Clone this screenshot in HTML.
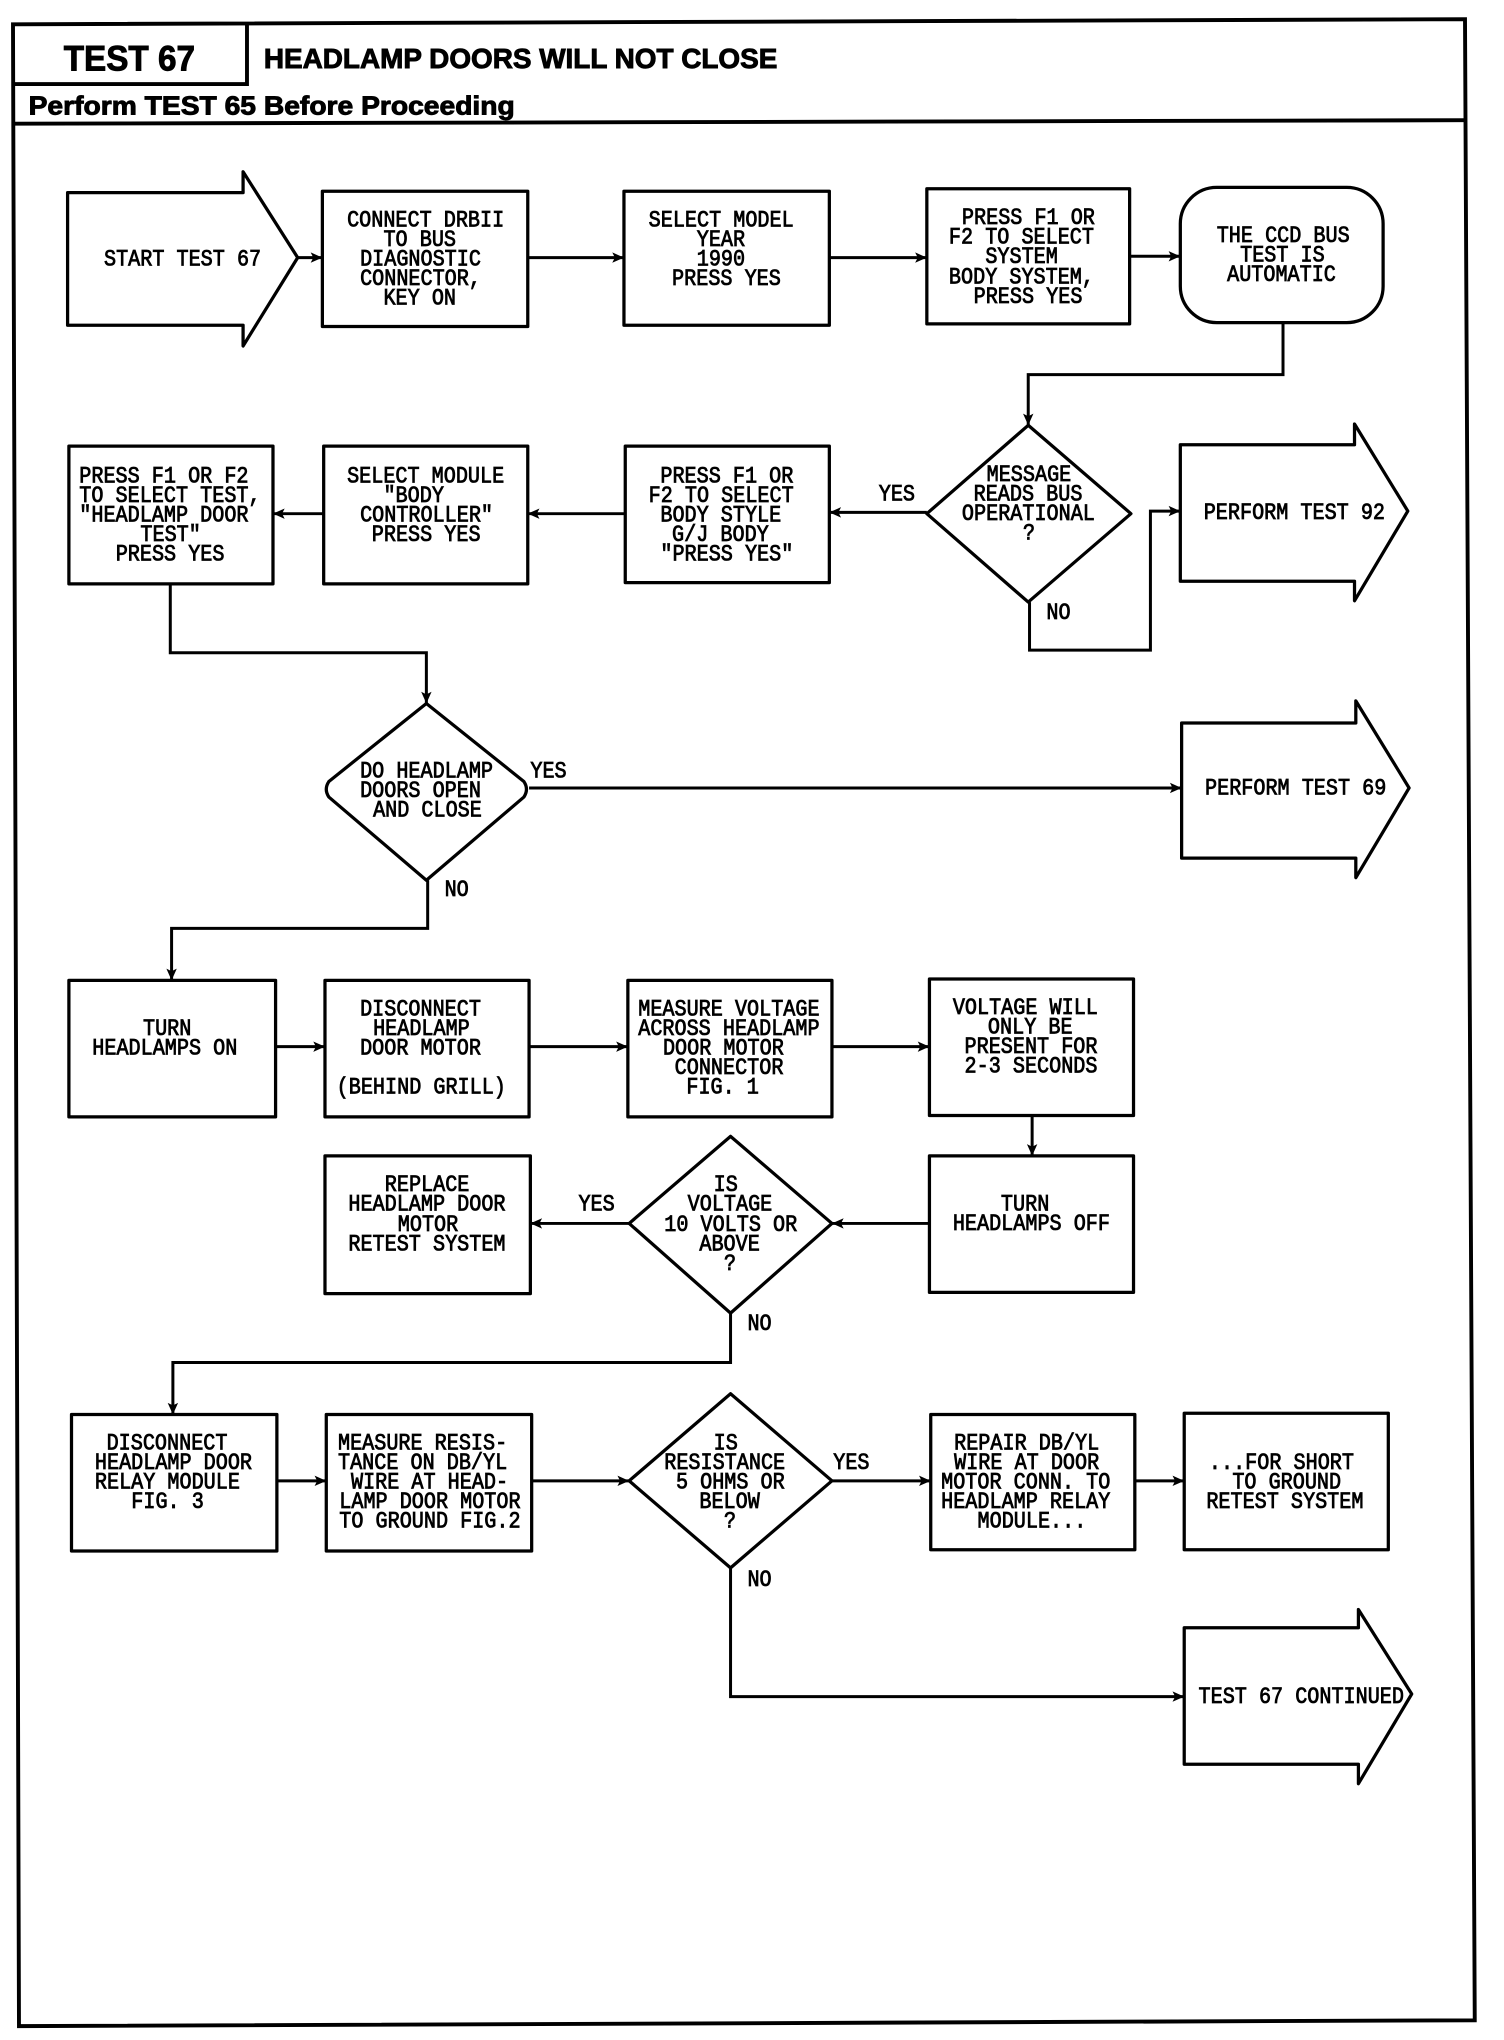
<!DOCTYPE html>
<html><head><meta charset="utf-8"><title>Test 67</title>
<style>
html,body{margin:0;padding:0;background:#fff}
svg{display:block}
.s{fill:#fff;stroke:#000;stroke-width:2.5;stroke-linejoin:round}
.f{fill:none;stroke:#000;stroke-width:3}
.c{fill:none;stroke:#000;stroke-width:2.3;marker-end:url(#a)}
.t text{font-family:"Liberation Mono",monospace;font-size:15.5px;fill:#000;stroke:#000;stroke-width:.55}
.h{font-family:"Liberation Sans",sans-serif;font-weight:bold;fill:#000;stroke:#000;stroke-width:.7}
</style></head><body>
<svg xmlns="http://www.w3.org/2000/svg" width="1504" height="2040" viewBox="0 0 1157 1569">
<defs><marker id="a" markerUnits="userSpaceOnUse" markerWidth="11" markerHeight="11" refX="10" refY="5.5" orient="auto"><path d="M1 1.5L10 5.5L1 9.5L3 5.5Z" fill="#000"/></marker></defs>
<rect width="1157" height="1569" fill="#fff"/>
<path class="f" d="M10 18.5L1127 14.6L1134.5 1554L14.6 1558.5Z"/>
<path class="f" d="M190 17V64.5H11M11 95L1128 92.3"/>
<text class="h" x="49" y="54" font-size="27" textLength="101" lengthAdjust="spacingAndGlyphs">TEST 67</text>
<text class="h" x="203" y="52" font-size="21" textLength="395" lengthAdjust="spacingAndGlyphs">HEADLAMP DOORS WILL NOT CLOSE</text>
<text class="h" x="22" y="88" font-size="20" textLength="374" lengthAdjust="spacingAndGlyphs">Perform TEST 65 Before Proceeding</text>

<path class="s" d="M52 148H187V132L229 198L187 266V250H52Z"/>
<path class="s" d="M908 342H1042V326L1083 393L1042 462V447H908Z"/>
<path class="s" d="M909 556H1043V539L1084 606L1043 675V660H909Z"/>
<path class="s" d="M911 1252H1045V1238L1086 1303L1045 1372V1357H911Z"/>

<rect class="s" x="248" y="147" width="158" height="104"/>
<rect class="s" x="480" y="147" width="158" height="103"/>
<rect class="s" x="713" y="145" width="156" height="104"/>
<rect class="s" x="908" y="144" width="156" height="104" rx="28"/>
<rect class="s" x="481" y="343" width="157" height="105"/>
<rect class="s" x="249" y="343" width="157" height="106"/>
<rect class="s" x="53" y="343" width="157" height="106"/>
<rect class="s" x="53" y="754" width="159" height="105"/>
<rect class="s" x="250" y="754" width="157" height="105"/>
<rect class="s" x="483" y="754" width="157" height="105"/>
<rect class="s" x="715" y="753" width="157" height="105"/>
<rect class="s" x="715" y="889" width="157" height="105"/>
<rect class="s" x="250" y="889" width="158" height="106"/>
<rect class="s" x="55" y="1088" width="158" height="105"/>
<rect class="s" x="251" y="1088" width="158" height="105"/>
<rect class="s" x="716" y="1088" width="157" height="104"/>
<rect class="s" x="911" y="1087" width="157" height="105"/>

<path class="s" d="M791 327L870 395L791 463L713 395Z"/>
<path class="s" d="M328 541L403 601Q407 607 403 613L328 677L253 613Q249 607 253 601Z"/>
<path class="s" d="M562 874L640 941L562 1010L484 941Z"/>
<path class="s" d="M562 1072L640 1139L562 1206L484 1139Z"/>

<path class="c" d="M229 198H248"/>
<path class="c" d="M406 198H480"/>
<path class="c" d="M638 198H713"/>
<path class="c" d="M869 197H908"/>
<path class="c" d="M987 248V288H791V327"/>
<path class="c" d="M713 394H638"/>
<path class="c" d="M481 395H406"/>
<path class="c" d="M249 395H210"/>
<path class="c" d="M792 463V500H885V393H908"/>
<path class="c" d="M131 449V502H328V541"/>
<path class="c" d="M407 606H909"/>
<path class="c" d="M329 677V714H132V754"/>
<path class="c" d="M212 805H250"/>
<path class="c" d="M407 805H483"/>
<path class="c" d="M640 805H715"/>
<path class="c" d="M794 858V889"/>
<path class="c" d="M715 941H640"/>
<path class="c" d="M484 941H408"/>
<path class="c" d="M562 1010V1048H133V1088"/>
<path class="c" d="M213 1139H251"/>
<path class="c" d="M409 1139H484"/>
<path class="c" d="M640 1139H716"/>
<path class="c" d="M873 1139H911"/>
<path class="c" d="M562 1206V1305H911"/>

<g class="t" transform="translate(0 6)">
<text transform="translate(80 198) scale(1 1.15)">START TEST 67</text>
<text transform="translate(267 168) scale(1 1.15)">CONNECT DRBII</text>
<text transform="translate(295 183) scale(1 1.15)">TO BUS</text>
<text transform="translate(277 198) scale(1 1.15)">DIAGNOSTIC</text>
<text transform="translate(277 213) scale(1 1.15)">CONNECTOR,</text>
<text transform="translate(295 228) scale(1 1.15)">KEY ON</text>
<text transform="translate(499 168) scale(1 1.15)">SELECT MODEL</text>
<text transform="translate(536 183) scale(1 1.15)">YEAR</text>
<text transform="translate(536 198) scale(1 1.15)">1990</text>
<text transform="translate(517 213) scale(1 1.15)">PRESS YES</text>
<text transform="translate(740 166) scale(1 1.15)">PRESS F1 OR</text>
<text transform="translate(730 181) scale(1 1.15)">F2 TO SELECT</text>
<text transform="translate(758 196) scale(1 1.15)">SYSTEM</text>
<text transform="translate(730 212) scale(1 1.15)">BODY SYSTEM,</text>
<text transform="translate(749 227) scale(1 1.15)">PRESS YES</text>
<text transform="translate(936 180) scale(1 1.15)">THE CCD BUS</text>
<text transform="translate(954 195) scale(1 1.15)">TEST IS</text>
<text transform="translate(944 210) scale(1 1.15)">AUTOMATIC</text>
<text transform="translate(759 364) scale(1 1.15)">MESSAGE</text>
<text transform="translate(749 379) scale(1 1.15)">READS BUS</text>
<text transform="translate(740 394) scale(1 1.15)">OPERATIONAL</text>
<text transform="translate(787 409) scale(1 1.15)">?</text>
<text transform="translate(676 379) scale(1 1.15)">YES</text>
<text transform="translate(805 470) scale(1 1.15)">NO</text>
<text transform="translate(926 393) scale(1 1.15)">PERFORM TEST 92</text>
<text transform="translate(508 365) scale(1 1.15)">PRESS F1 OR</text>
<text transform="translate(499 380) scale(1 1.15)">F2 TO SELECT</text>
<text transform="translate(508 395) scale(1 1.15)">BODY STYLE</text>
<text transform="translate(517 410) scale(1 1.15)">G/J BODY</text>
<text transform="translate(508 425) scale(1 1.15)">"PRESS YES"</text>
<text transform="translate(267 365) scale(1 1.15)">SELECT MODULE</text>
<text transform="translate(295 380) scale(1 1.15)">"BODY</text>
<text transform="translate(277 395) scale(1 1.15)">CONTROLLER"</text>
<text transform="translate(286 410) scale(1 1.15)">PRESS YES</text>
<text transform="translate(61 365) scale(1 1.15)">PRESS F1 OR F2</text>
<text transform="translate(61 380) scale(1 1.15)">TO SELECT TEST,</text>
<text transform="translate(61 395) scale(1 1.15)">"HEADLAMP DOOR</text>
<text transform="translate(108 410) scale(1 1.15)">TEST"</text>
<text transform="translate(89 425) scale(1 1.15)">PRESS YES</text>
<text transform="translate(277 592) scale(1 1.15)">DO HEADLAMP</text>
<text transform="translate(277 607) scale(1 1.15)">DOORS OPEN</text>
<text transform="translate(287 622) scale(1 1.15)">AND CLOSE</text>
<text transform="translate(408 592) scale(1 1.15)">YES</text>
<text transform="translate(342 683) scale(1 1.15)">NO</text>
<text transform="translate(927 605) scale(1 1.15)">PERFORM TEST 69</text>
<text transform="translate(110 790) scale(1 1.15)">TURN</text>
<text transform="translate(71 805) scale(1 1.15)">HEADLAMPS ON</text>
<text transform="translate(277 775) scale(1 1.15)">DISCONNECT</text>
<text transform="translate(287 790) scale(1 1.15)">HEADLAMP</text>
<text transform="translate(277 805) scale(1 1.15)">DOOR MOTOR</text>
<text transform="translate(259 835) scale(1 1.15)">(BEHIND GRILL)</text>
<text transform="translate(491 775) scale(1 1.15)">MEASURE VOLTAGE</text>
<text transform="translate(491 790) scale(1 1.15)">ACROSS HEADLAMP</text>
<text transform="translate(510 805) scale(1 1.15)">DOOR MOTOR</text>
<text transform="translate(519 820) scale(1 1.15)">CONNECTOR</text>
<text transform="translate(528 835) scale(1 1.15)">FIG. 1</text>
<text transform="translate(733 774) scale(1 1.15)">VOLTAGE WILL</text>
<text transform="translate(760 789) scale(1 1.15)">ONLY BE</text>
<text transform="translate(742 804) scale(1 1.15)">PRESENT FOR</text>
<text transform="translate(742 819) scale(1 1.15)">2-3 SECONDS</text>
<text transform="translate(770 925) scale(1 1.15)">TURN</text>
<text transform="translate(733 940) scale(1 1.15)">HEADLAMPS OFF</text>
<text transform="translate(549 910) scale(1 1.15)">IS</text>
<text transform="translate(529 925) scale(1 1.15)">VOLTAGE</text>
<text transform="translate(511 941) scale(1 1.15)">10 VOLTS OR</text>
<text transform="translate(538 956) scale(1 1.15)">ABOVE</text>
<text transform="translate(557 971) scale(1 1.15)">?</text>
<text transform="translate(445 925) scale(1 1.15)">YES</text>
<text transform="translate(296 910) scale(1 1.15)">REPLACE</text>
<text transform="translate(268 925) scale(1 1.15)">HEADLAMP DOOR</text>
<text transform="translate(306 941) scale(1 1.15)">MOTOR</text>
<text transform="translate(268 956) scale(1 1.15)">RETEST SYSTEM</text>
<text transform="translate(575 1017) scale(1 1.15)">NO</text>
<text transform="translate(82 1109) scale(1 1.15)">DISCONNECT</text>
<text transform="translate(73 1124) scale(1 1.15)">HEADLAMP DOOR</text>
<text transform="translate(73 1139) scale(1 1.15)">RELAY MODULE</text>
<text transform="translate(101 1154) scale(1 1.15)">FIG. 3</text>
<text transform="translate(260 1109) scale(1 1.15)">MEASURE RESIS-</text>
<text transform="translate(260 1124) scale(1 1.15)">TANCE ON DB/YL</text>
<text transform="translate(270 1139) scale(1 1.15)">WIRE AT HEAD-</text>
<text transform="translate(261 1154) scale(1 1.15)">LAMP DOOR MOTOR</text>
<text transform="translate(261 1169) scale(1 1.15)">TO GROUND FIG.2</text>
<text transform="translate(549 1109) scale(1 1.15)">IS</text>
<text transform="translate(511 1124) scale(1 1.15)">RESISTANCE</text>
<text transform="translate(520 1139) scale(1 1.15)">5 OHMS OR</text>
<text transform="translate(538 1154) scale(1 1.15)">BELOW</text>
<text transform="translate(557 1169) scale(1 1.15)">?</text>
<text transform="translate(641 1124) scale(1 1.15)">YES</text>
<text transform="translate(734 1109) scale(1 1.15)">REPAIR DB/YL</text>
<text transform="translate(734 1124) scale(1 1.15)">WIRE AT DOOR</text>
<text transform="translate(724 1139) scale(1 1.15)">MOTOR CONN. TO</text>
<text transform="translate(724 1154) scale(1 1.15)">HEADLAMP RELAY</text>
<text transform="translate(752 1169) scale(1 1.15)">MODULE...</text>
<text transform="translate(930 1124) scale(1 1.15)">...FOR SHORT</text>
<text transform="translate(948 1139) scale(1 1.15)">TO GROUND</text>
<text transform="translate(928 1154) scale(1 1.15)">RETEST SYSTEM</text>
<text transform="translate(575 1214) scale(1 1.15)">NO</text>
<text transform="translate(922 1304) scale(1 1.15)">TEST 67 CONTINUED</text>
</g>
</svg>
</body></html>
